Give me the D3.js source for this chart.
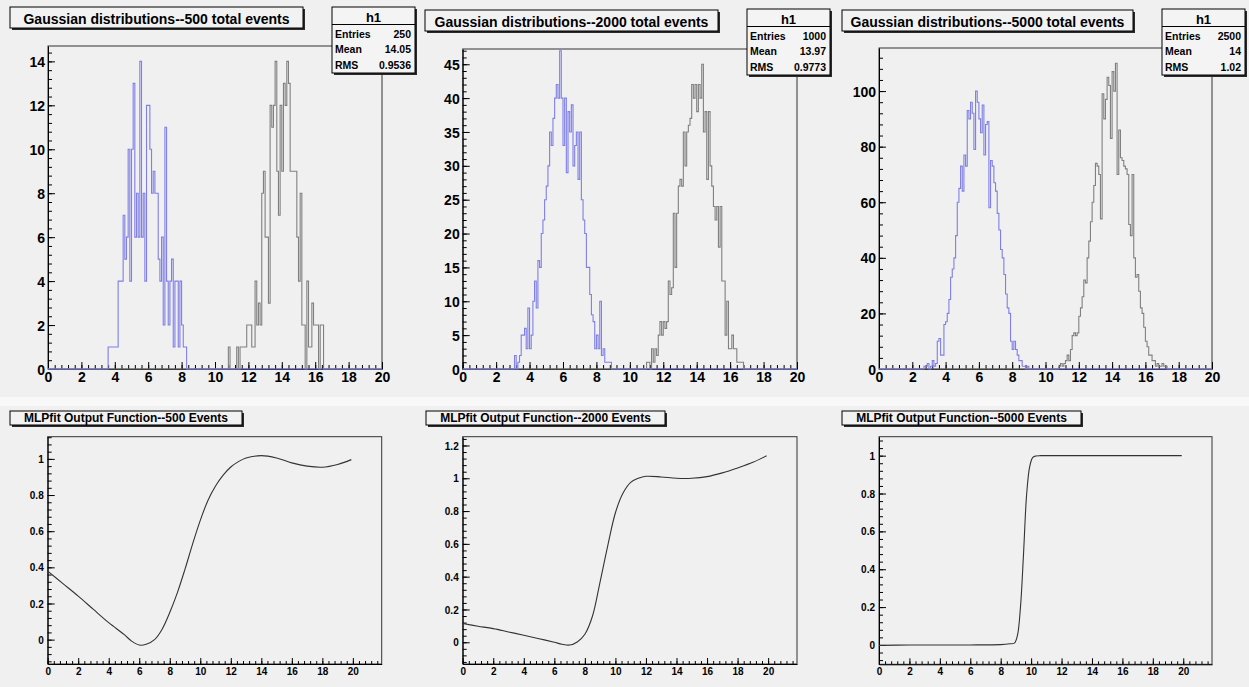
<!DOCTYPE html>
<html>
<head>
<meta charset="utf-8">
<script src="https://cdn.jsdelivr.net/npm/d3@7"></script>
<style>
  body { margin: 0; background: #ffffff; }
  svg { display: block; }
  text { font-family: "Liberation Sans", Arial, Helvetica, sans-serif; font-weight: bold; fill: #000; }
</style>
</head>
<body>
<svg id="canvas" width="1249" height="687"></svg>
<script>
// ---------------------------------------------------------------
// Histogram contents: counts per 0.1-wide bin, listed from a start edge
// (bins outside the listed range are empty). Axis range 0..20.
// ---------------------------------------------------------------
const binWidth = 0.1;
const histRange = [0, 20];

// 500 total events
const sig500Start = 3.6;
const sig500 = [1,1,1,1,1,1,4,4,4,7,5,6,10,4,10,13,6,8,6,14,6,8,4,12,12,10,8,9,8,8,5,4,6,2,11,4,2,4,5,1,4,4,1,4,2,1,1];
const bkg500Start = 10.8;
const bkg500 = [1,0,0,0,0,1,0,1,1,1,1,2,2,2,1,1,4,2,3,2,8,9,6,6,3,12,11,12,14,9,7,12,9,13,12,14,13,9,9,9,9,6,4,8,2,2,0,4,1,1,3,2,2,2,0,2,2];

// 2000 total events
const sig2000Start = 3.1;
const sig2000 = [2,0,1,2,5,5,6,3,9,3,5,10,13,9,16,15,20,22,25,27,30,35,33,37,40,42,40,47,40,33,40,29,38,35,39,30,33,35,28,35,25,22,20,15,15,11,8,7,3,5,3,10,2,3,1,1,1,1];
const bkg2000Start = 11.0;
const bkg2000 = [1,1,0,3,1,3,2,5,7,5,7,6,7,13,11,12,23,15,23,27,28,27,35,30,35,36,37,42,40,42,38,42,40,45,35,38,28,38,30,27,24,22,24,18,24,13,13,5,10,3,3,5,3,3,1,1,1,1];

// 5000 total events
const sig5000Start = 2.7;
const sig5000 = [1,1,2,0,1,3,1,2,10,11,5,5,16,17,20,25,33,36,40,48,60,65,73,64,77,73,93,90,96,92,79,100,96,90,85,95,77,88,89,58,75,73,67,64,56,50,43,40,34,27,22,20,10,7,10,7,5,3,3,1,1,0,1];
const bkg5000Start = 10.8;
const bkg5000 = [1,2,1,2,3,5,3,7,12,13,12,13,19,22,26,32,31,40,46,53,60,66,74,73,70,54,99,90,97,105,102,83,107,100,110,70,86,76,75,73,72,70,52,48,70,40,33,34,28,22,20,15,10,8,5,5,3,3,1,2,1,1,2,1,1];

// Statistics box entries (h1 = background sample)
const statLabels = ["Entries", "Mean", "RMS"];
const stats500  = ["250", "14.05", "0.9536"];
const stats2000 = ["1000", "13.97", "0.9773"];
const stats5000 = ["2500", "14", "1.02"];

// Titles
const histTitles = [
  "Gaussian distributions--500 total events",
  "Gaussian distributions--2000 total events",
  "Gaussian distributions--5000 total events"
];
const fitTitles = [
  "MLPfit Output Function--500 Events",
  "MLPfit Output Function--2000 Events",
  "MLPfit Output Function--5000 Events"
];

// Axis tick labels
const xTicks = [0, 2, 4, 6, 8, 10, 12, 14, 16, 18, 20];
const yTicks500 = [0, 2, 4, 6, 8, 10, 12, 14];
const yTicks2000 = [0, 5, 10, 15, 20, 25, 30, 35, 40, 45];
const yTicks5000 = [0, 20, 40, 60, 80, 100];
const yTicksFit = [0, 0.2, 0.4, 0.6, 0.8, 1];
const yTicksFit2000 = [0, 0.2, 0.4, 0.6, 0.8, 1, 1.2];

// Network output sampled along the input variable
const fit500X = [0, 1, 2, 3, 4, 5, 5.5, 6, 6.5, 7, 7.5, 8, 8.5, 9, 9.5, 10, 10.5, 11, 11.5, 12, 12.5, 13, 14, 15, 16, 17, 18, 19, 19.9];
const fit500Y = [0.379, 0.31, 0.241, 0.167, 0.094, 0.029, -0.008, -0.03, -0.024, 0.0, 0.058, 0.15, 0.26, 0.39, 0.53, 0.66, 0.77, 0.85, 0.91, 0.955, 0.985, 1.005, 1.018, 1.005, 0.978, 0.96, 0.954, 0.969, 0.996];

const fit2000X = [0, 1, 2, 3, 4, 5, 6, 6.5, 7, 7.5, 8, 8.5, 9, 9.5, 10, 10.5, 11, 11.5, 12, 13, 14, 15, 16, 17, 18, 19, 19.9];
const fit2000Y = [0.114, 0.098, 0.083, 0.063, 0.043, 0.022, 0.0, -0.012, -0.017, 0.002, 0.049, 0.16, 0.37, 0.59, 0.79, 0.91, 0.975, 1.0, 1.012, 1.008, 1.0, 1.0, 1.01, 1.033, 1.063, 1.097, 1.138];

const fit5000X = [0, 2, 4, 6, 8, 8.6, 8.9, 9.1, 9.3, 9.5, 9.7, 9.9, 10.1, 10.3, 10.6, 11, 14, 17, 19.9];
const fit5000Y = [-0.002, 0, 0, 0, 0.002, 0.006, 0.01, 0.05, 0.2, 0.48, 0.79, 0.94, 0.99, 0.998, 1.0, 1.0, 1.0, 1.0, 1.0];

// ---------------------------------------------------------------
// Canvas layout
// ---------------------------------------------------------------
const svg = d3.select("#canvas");
const padFill = "#f0f0f0";
const sigColor = "#7f7fe6";
const bkgColor = "#808080";

svg.append("rect").attr("x", 0).attr("y", 0).attr("width", 1249).attr("height", 687).attr("fill", padFill);
// light seam between the two rows of pads
svg.append("rect").attr("x", 0).attr("y", 397).attr("width", 1249).attr("height", 9).attr("fill", "#f8f8f8");

const histPanels = [
  { frame: { l: 48, r: 382, t: 46, b: 369 }, title: { x0: 10, x1: 303, y0: 7, y1: 28 }, stat: { x0: 332, x1: 415, y0: 7, y1: 73 },
    sig: sig500, sigStart: sig500Start, bkg: bkg500, bkgStart: bkg500Start, yTicks: yTicks500, minorStep: 0.4, stats: stats500 },
  { frame: { l: 462.7, r: 797, t: 49, b: 369 }, title: { x0: 425, x1: 718, y0: 10, y1: 31 }, stat: { x0: 747, x1: 830, y0: 9, y1: 75 },
    sig: sig2000, sigStart: sig2000Start, bkg: bkg2000, bkgStart: bkg2000Start, yTicks: yTicks2000, minorStep: 1, stats: stats2000 },
  { frame: { l: 879, r: 1212, t: 48, b: 369 }, title: { x0: 842, x1: 1133, y0: 10, y1: 31 }, stat: { x0: 1162, x1: 1245, y0: 9, y1: 75 },
    sig: sig5000, sigStart: sig5000Start, bkg: bkg5000, bkgStart: bkg5000Start, yTicks: yTicks5000, minorStep: 4, stats: stats5000 }
];

const fitPanels = [
  { frame: { l: 47.7, r: 381.7, t: 436.7, b: 664 }, title: { x0: 10, x1: 242, y0: 411, y1: 425 }, xs: fit500X, ys: fit500Y, yTicks: yTicksFit },
  { frame: { l: 462.7, r: 797, t: 436.7, b: 664 }, title: { x0: 426, x1: 665, y0: 411, y1: 425 }, xs: fit2000X, ys: fit2000Y, yTicks: yTicksFit2000 },
  { frame: { l: 879, r: 1212, t: 436.7, b: 664.3 }, title: { x0: 842, x1: 1081, y0: 411, y1: 425 }, xs: fit5000X, ys: fit5000Y, yTicks: yTicksFit }
];

function minorValues(domain, step) {
  const lo = Math.ceil(domain[0] / step - 1e-9), hi = Math.floor(domain[1] / step + 1e-9);
  return d3.range(lo, hi + 1).map(k => +(k * step).toFixed(6));
}

function pave(box, fill) {
  svg.append("rect").attr("x", box.x0 + 2).attr("y", box.y0 + 2)
    .attr("width", box.x1 - box.x0).attr("height", box.y1 - box.y0).attr("fill", "#2a2a2a");
  svg.append("rect").attr("x", box.x0).attr("y", box.y0)
    .attr("width", box.x1 - box.x0).attr("height", box.y1 - box.y0)
    .attr("fill", fill).attr("stroke", "#000").attr("stroke-width", 1);
}

function drawAxes(g, x, y, f, opt) {
  // frame outline
  g.append("rect").attr("x", f.l).attr("y", f.t).attr("width", f.r - f.l).attr("height", f.b - f.t)
    .attr("fill", "none").attr("stroke", "#333").attr("stroke-width", 1);

  const yMajor = d3.axisLeft(y).tickValues(opt.yTicks).tickSizeInner(-opt.major).tickSizeOuter(0)
    .tickPadding(opt.yPad).tickFormat(d => String(d));
  const ya = g.append("g").attr("transform", `translate(${f.l},0)`).call(yMajor);
  const yMinor = d3.axisLeft(y).tickValues(minorValues(y.domain(), opt.yMinor)).tickSize(-opt.minor).tickFormat("");
  const ym = g.append("g").attr("transform", `translate(${f.l},0)`).call(yMinor);
  ym.select(".domain").remove();

  const xMajor = d3.axisBottom(x).tickValues(xTicks).tickSizeInner(-opt.majorX).tickSizeOuter(0)
    .tickPadding(opt.xPad).tickFormat(d => String(d));
  const xa = g.append("g").attr("transform", `translate(0,${f.b})`).call(xMajor);
  const xMinor = d3.axisBottom(x).tickValues(minorValues(x.domain(), opt.xMinor)).tickSize(-opt.minorX).tickFormat("");
  const xm = g.append("g").attr("transform", `translate(0,${f.b})`).call(xMinor);
  xm.select(".domain").remove();

  [ya, ym, xa, xm].forEach(a => {
    a.selectAll("path,line").attr("stroke", "#000").attr("stroke-width", 1);
    a.selectAll("text").attr("font-family", "Liberation Sans, Arial, sans-serif")
      .attr("font-weight", "bold").attr("font-size", opt.font).attr("fill", "#000");
  });
  ya.selectAll("text").attr("dy", "0.36em");
  xa.selectAll("text").attr("dy", "0.72em");
}

// ---------------------------------------------------------------
// Top row: signal and background histograms
// ---------------------------------------------------------------
histPanels.forEach((p, i) => {
  const f = p.frame;
  const g = svg.append("g");
  const x = d3.scaleLinear().domain(histRange).range([f.l, f.r]);
  const yMax = 1.05 * d3.max(p.bkg);
  const y = d3.scaleLinear().domain([0, yMax]).range([f.b, f.t]);

  drawAxes(g, x, y, f, { yTicks: p.yTicks, major: 7, minor: 4, majorX: 7, minorX: 4,
    yMinor: p.minorStep, xMinor: 0.4, font: "14px", yPad: 3, xPad: 3 });

  const nBins = Math.round((histRange[1] - histRange[0]) / binWidth);
  function outline(start, counts) {
    const vals = new Array(nBins).fill(0);
    const i0 = Math.round((start - histRange[0]) / binWidth);
    counts.forEach((c, k) => { vals[i0 + k] = c; });
    const pts = [[histRange[0], 0]];
    vals.forEach((v, k) => {
      pts.push([histRange[0] + k * binWidth, v]);
      pts.push([histRange[0] + (k + 1) * binWidth, v]);
    });
    pts.push([histRange[1], 0]);
    return d3.line().x(d => x(d[0])).y(d => y(d[1]))(pts);
  }
  g.append("path").attr("d", outline(p.bkgStart, p.bkg)).attr("fill", "none")
    .attr("stroke", bkgColor).attr("stroke-width", 1.1);
  g.append("path").attr("d", outline(p.sigStart, p.sig)).attr("fill", "none")
    .attr("stroke", sigColor).attr("stroke-width", 1.1);

  // title pave
  const t = p.title;
  pave(t, "#f2f2f2");
  svg.append("text").attr("x", (t.x0 + t.x1) / 2).attr("y", t.y1 - 4)
    .attr("text-anchor", "middle").attr("font-size", "14px").text(histTitles[i]);

  // statistics pave
  const s = p.stat;
  pave(s, "#f4f4f4");
  svg.append("line").attr("x1", s.x0).attr("x2", s.x1).attr("y1", s.y0 + 17.5).attr("y2", s.y0 + 17.5)
    .attr("stroke", "#000").attr("stroke-width", 1);
  svg.append("text").attr("x", (s.x0 + s.x1) / 2).attr("y", s.y0 + 14.5)
    .attr("text-anchor", "middle").attr("font-size", "13px").text("h1");
  statLabels.forEach((lab, k) => {
    const by = s.y0 + 30.5 + k * 15.8;
    svg.append("text").attr("x", s.x0 + 3).attr("y", by).attr("font-size", "10.5px").text(lab);
    svg.append("text").attr("x", s.x1 - 4).attr("y", by).attr("text-anchor", "end")
      .attr("font-size", "10.5px").text(p.stats[k]);
  });
});

// ---------------------------------------------------------------
// Bottom row: network output functions
// ---------------------------------------------------------------
fitPanels.forEach((p, i) => {
  const f = p.frame;
  const g = svg.append("g");
  const xMaxData = d3.max(p.xs), xMinData = d3.min(p.xs);
  const dx = xMaxData - xMinData;
  const x = d3.scaleLinear().domain([Math.max(0, xMinData - 0.1 * dx), xMaxData + 0.1 * dx]).range([f.l, f.r]);
  const yMin = d3.min(p.ys), yMax = d3.max(p.ys), dy = yMax - yMin;
  const y = d3.scaleLinear().domain([yMin - 0.1 * dy, yMax + 0.1 * dy]).range([f.b, f.t]);

  drawAxes(g, x, y, f, { yTicks: p.yTicks, major: 7, minor: 4, majorX: 6, minorX: 3,
    yMinor: 0.04, xMinor: 0.4, font: "10px", yPad: 4, xPad: 4 });

  const pts = p.xs.map((v, k) => [v, p.ys[k]]);
  g.append("path").attr("d", d3.line().x(d => x(d[0])).y(d => y(d[1])).curve(d3.curveCatmullRom.alpha(0.5))(pts))
    .attr("fill", "none").attr("stroke", "#333").attr("stroke-width", 1.1);

  const t = p.title;
  pave(t, "#f2f2f2");
  svg.append("text").attr("x", (t.x0 + t.x1) / 2).attr("y", t.y1 - 3)
    .attr("text-anchor", "middle").attr("font-size", "12px").text(fitTitles[i]);
});
</script>
</body>
</html>
